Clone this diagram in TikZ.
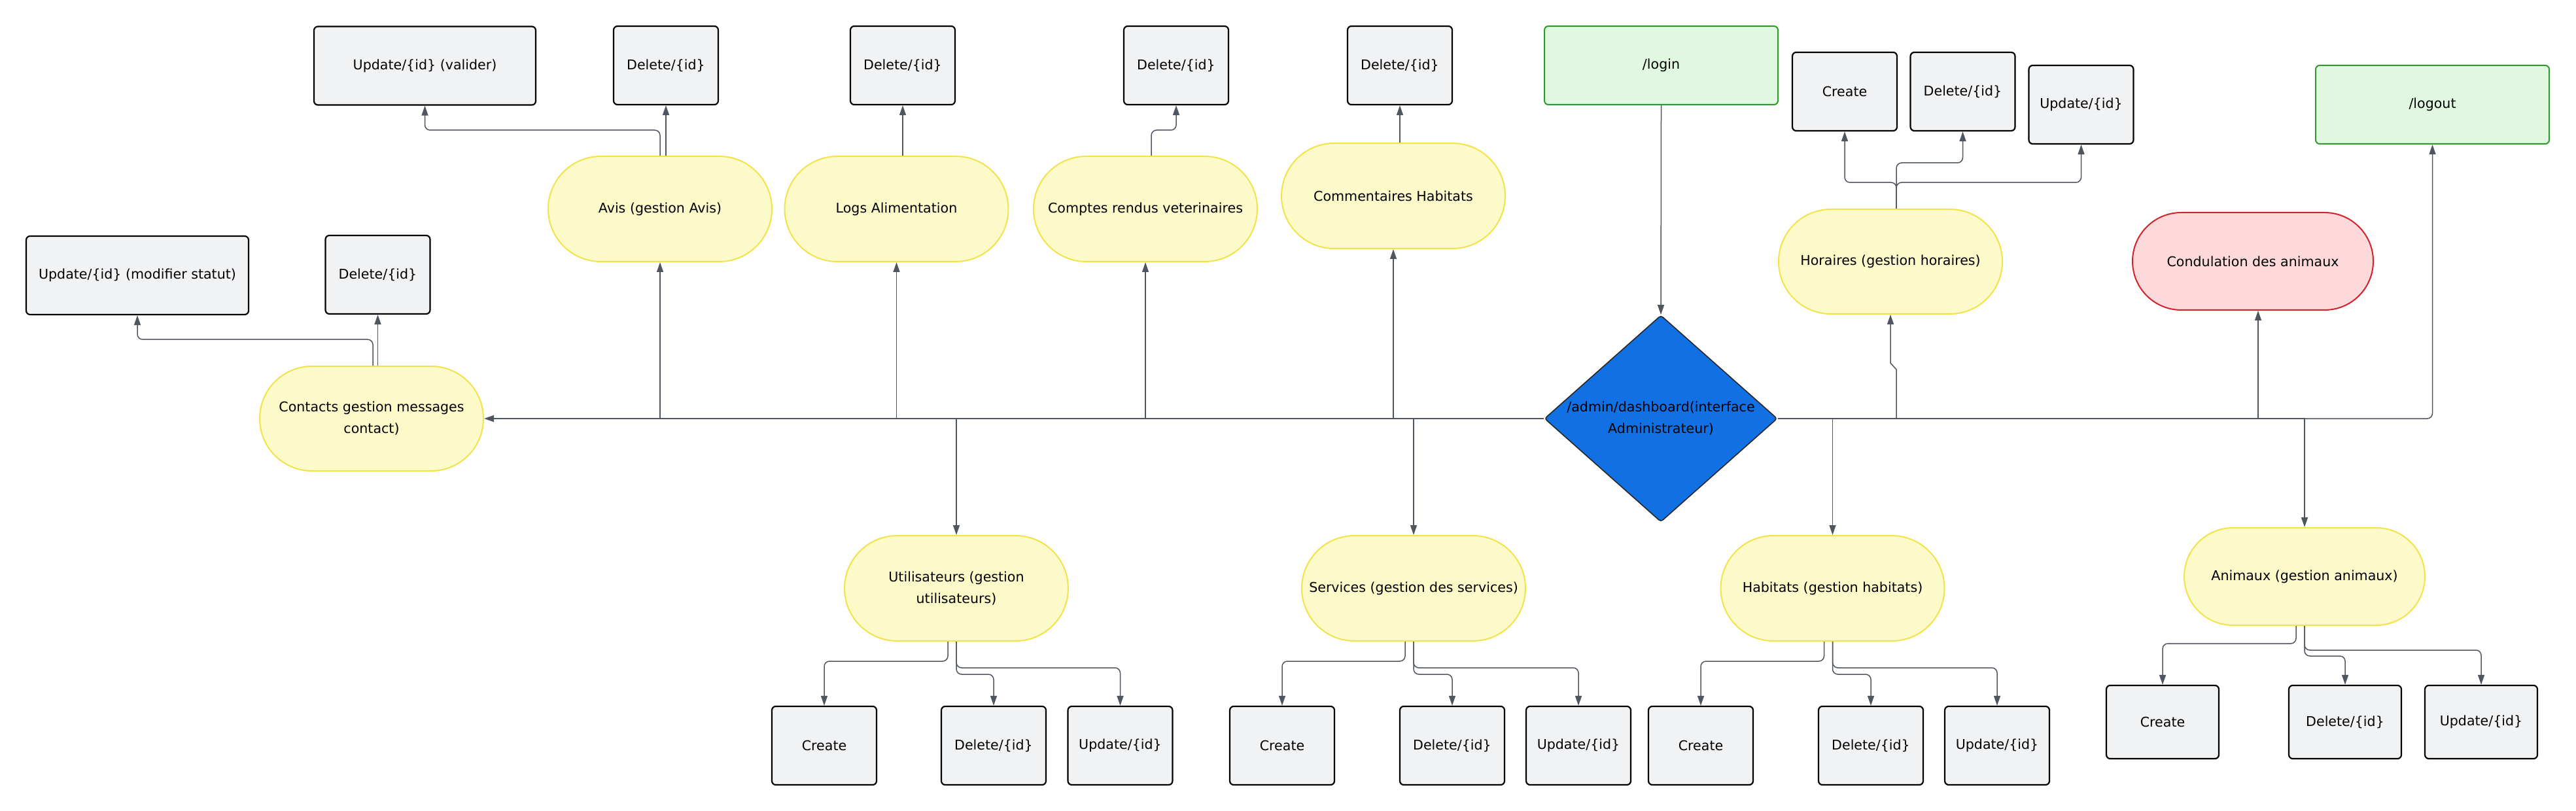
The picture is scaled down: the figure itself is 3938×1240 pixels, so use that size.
\documentclass[tikz,border=0pt]{standalone}
\usepackage{fontspec}
\setmainfont{DejaVu Sans}
\usetikzlibrary{shapes.geometric,shapes.misc,arrows.meta}
\definecolor{yfill}{HTML}{FBFAC8}
\definecolor{yline}{HTML}{F2E34C}
\definecolor{gfill}{HTML}{F1F2F4}
\definecolor{grfill}{HTML}{E0F8E0}
\definecolor{grline}{HTML}{2E9A2E}
\definecolor{rfill}{HTML}{FDD9DB}
\definecolor{rline}{HTML}{D2232A}
\definecolor{dblue}{HTML}{1170E3}
\definecolor{cline}{HTML}{50565F}
\begin{document}
\begin{tikzpicture}[x=0.5pt,y=-0.5pt,
  txt/.style={font=\fontsize{10.3pt}{16.5pt}\selectfont, text=black, align=center},
  gbox/.style={txt, rectangle, rounded corners=3pt, draw=black, line width=1.1pt, fill=gfill, minimum width=80pt, minimum height=60pt, inner sep=2pt},
  grbox/.style={txt, rectangle, rounded corners=3pt, draw=grline, line width=1pt, fill=grfill, minimum width=178.5pt, minimum height=60pt},
  pill/.style={rounded rectangle, draw=yline, line width=1pt, fill=yfill, minimum width=171pt, minimum height=80.5pt, inner sep=0pt},
  rpill/.style={pill, draw=rline, fill=rfill},
  lab/.style={label={[txt]center:{#1}}},
  conn/.style={draw=cline, line width=0.75pt, -{Triangle[length=7.5pt,width=5pt]}},
  rconn/.style={conn, rounded corners=4pt}]
\useasboundingbox (0,0) rectangle (3938,1240);

% ---- top gray boxes
\node[gbox,minimum width=169.5pt] (upAvis) at (649.5,100.5) {Update/\{id\} (valider)};
\node[gbox] (delAvis) at (1018,100) {Delete/\{id\}};
\node[gbox,minimum width=170pt] (upCont) at (210,421) {Update/\{id\} (modifier statut)};
\node[gbox] (delCont) at (577.5,420) {Delete/\{id\}};
\node[gbox] (delLogs) at (1380,100) {Delete/\{id\}};
\node[gbox] (delComp) at (1798,100) {Delete/\{id\}};
\node[gbox] (delComm) at (2140,100) {Delete/\{id\}};
\node[gbox] (creHor) at (2820,140) {Create};
\node[gbox] (delHor) at (3000.5,140) {Delete/\{id\}};
\node[gbox] (upHor) at (3181.5,160) {Update/\{id\}};

% ---- bottom gray boxes
\node[gbox] (creU) at (1260,1140) {Create};
\node[gbox] (delU) at (1519,1140) {Delete/\{id\}};
\node[gbox] (upU) at (1712.5,1140) {Update/\{id\}};
\node[gbox] (creS) at (1960,1140) {Create};
\node[gbox] (delS) at (2220,1140) {Delete/\{id\}};
\node[gbox] (upS) at (2413,1140) {Update/\{id\}};
\node[gbox] (creH) at (2600,1140) {Create};
\node[gbox] (delH) at (2860,1140) {Delete/\{id\}};
\node[gbox] (upH) at (3053,1140) {Update/\{id\}};
\node[gbox,minimum width=86pt,minimum height=56pt] (creA) at (3306,1104) {Create};
\node[gbox,minimum width=86pt,minimum height=56pt] (delA) at (3585,1104) {Delete/\{id\}};
\node[gbox,minimum width=86pt,minimum height=56pt] (upA) at (3793,1104) {Update/\{id\}};

% ---- green boxes
\node[grbox] (login) at (2539.5,100) {/login};
\node[grbox] (logout) at (3718.5,160) {/logout};

% ---- pills
\node[pill,lab={Avis (gestion Avis)}] (avis) at (1009,319.5) {};
\node[pill,lab={Logs Alimentation}] (logs) at (1370.5,319.5) {};
\node[pill,lab={Comptes rendus veterinaires}] (comp) at (1751,319.5) {};
\node[pill,lab={Commentaires Habitats}] (comm) at (2130,299.5) {};
\node[pill,minimum height=80pt,lab={Contacts gestion messages\\contact)}] (cont) at (568,640) {};
\node[pill,minimum height=80pt,lab={Horaires (gestion horaires)}] (hor) at (2890,400) {};
\node[pill,lab={Utilisateurs (gestion\\utilisateurs)}] (util) at (1462,899.5) {};
\node[pill,lab={Services (gestion des services)}] (serv) at (2161,899.5) {};
\node[pill,lab={Habitats (gestion habitats)}] (hab) at (2801.5,899.5) {};
\node[pill,minimum width=184pt,minimum height=74.5pt,lab={Animaux (gestion animaux)}] (anim) at (3523,881.5) {};
\node[rpill,minimum width=184pt,minimum height=74.5pt,lab={Condulation des animaux}] (cond) at (3444,399.5) {};

% ---- diamond
\node[diamond, draw=black!85, line width=0.8pt, fill=dblue, rounded corners=2pt, minimum width=178pt, minimum height=158pt, inner sep=0pt,
      label={[txt]center:{/admin/dashboard(interface\\Administrateur)}}] (dash) at (2539,640) {};

% ---- main connectors
\draw[conn] (login.south) -- (dash.north);
\draw[conn] (dash.west) -- (cont.east);
\draw[conn] (dash.west) -| (avis.south);
\draw[conn] (dash.west) -| (logs.south);
\draw[conn] (dash.west) -| (comp.south);
\draw[conn] (dash.west) -| (comm.south);
\draw[conn] (dash.west) -| (util.north);
\draw[conn] (dash.west) -| (serv.north);
\draw[conn] (dash.east) -| (hab.north);
\draw[conn] (dash.east) -| (anim.north);
\draw[conn] (dash.east) -| ([xshift=4pt]cond.south);
\draw[rconn] (dash.east) -| (logout.south);
\draw[conn] (dash.east) -| ([xshift=4.5pt,yshift=-42pt]hor.south) -- ([yshift=-37pt]hor.south) -- (hor.south);

% ---- upper sub connectors
\draw[rconn] (avis.north) -- ++(0,19.5pt) -| (upAvis.south);
\draw[conn] (delAvis.south |- avis.north) -- (delAvis.south);
\draw[rconn] ([xshift=1pt]cont.north) -- ++(0,20pt) -| (upCont.south);
\draw[conn] (delCont.south |- cont.north) -- (delCont.south);
\draw[conn] (delLogs.south |- logs.north) -- (delLogs.south);
\draw[rconn] ([xshift=4.5pt]comp.north) -- ++(0,19.5pt) -| (delComp.south);
\draw[conn] (delComm.south |- comm.north) -- (delComm.south);
\draw[rconn] ([xshift=4.5pt]hor.north) -- ++(0,20pt) -| (creHor.south);
\draw[rconn] ([xshift=4.5pt]hor.north) -- ++(0,20pt) -| (upHor.south);
\draw[rconn] ([xshift=4.5pt]hor.north) -- ++(0,35pt) -| (delHor.south);

% ---- lower sub connectors
\draw[rconn] ([xshift=-6.5pt]util.south) -- ++(0,-15pt) -| (creU.north);
\draw[rconn] (util.south) -- ++(0,-25pt) -| (delU.north);
\draw[rconn] (util.south) -- ++(0,-20pt) -| (upU.north);
\draw[rconn] ([xshift=-6.5pt]serv.south) -- ++(0,-15pt) -| (creS.north);
\draw[rconn] (serv.south) -- ++(0,-25pt) -| (delS.north);
\draw[rconn] (serv.south) -- ++(0,-20pt) -| (upS.north);
\draw[rconn] ([xshift=-6.5pt]hab.south) -- ++(0,-15pt) -| (creH.north);
\draw[rconn] (hab.south) -- ++(0,-25pt) -| (delH.north);
\draw[rconn] (hab.south) -- ++(0,-20pt) -| (upH.north);
\draw[rconn] ([xshift=-6.5pt]anim.south) -- ++(0,-13.5pt) -| (creA.north);
\draw[rconn] (anim.south) -- ++(0,-23pt) -| (delA.north);
\draw[rconn] (anim.south) -- ++(0,-18.5pt) -| (upA.north);
\end{tikzpicture}
\end{document}
